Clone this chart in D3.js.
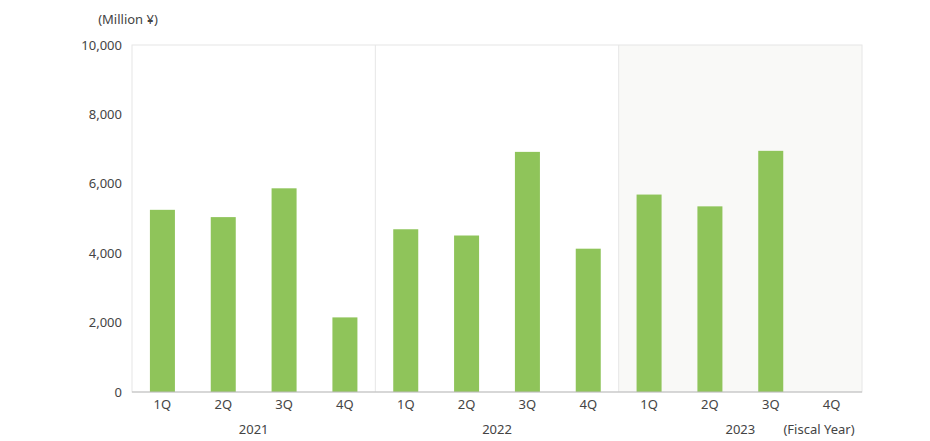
<!DOCTYPE html>
<html><head><meta charset="utf-8">
<script src="https://cdn.jsdelivr.net/npm/d3@7"></script>
<style>body{margin:0;background:#fff;font-family:"Noto Sans",sans-serif;overflow:hidden;}</style>
</head><body><div id="plot"></div>
<script>
const years = ["2021", "2022", "2023"];
const quarters = ["1Q", "2Q", "3Q", "4Q"];
const values2021 = [5250, 5040, 5870, 2150];
const values2022 = [4690, 4510, 6920, 4130];
const values2023 = [5690, 5350, 6950, null];
const yTicks = [0, 2000, 4000, 6000, 8000, 10000];

const w = 930, h = 441;
const margin = {top: 45, right: 68, bottom: 49, left: 132};
const innerWidth = w - margin.left - margin.right;
const innerHeight = h - margin.top - margin.bottom;

const data = [];
[values2021, values2022, values2023].forEach((vals, i) => {
  vals.forEach((v, j) => data.push({year: years[i], q: quarters[j], key: years[i] + quarters[j], value: v}));
});

const svg = d3.select("#plot").append("svg").attr("width", w).attr("height", h).style("display", "block");
const g = svg.append("g").attr("transform", `translate(${margin.left},${margin.top})`);

const xYear = d3.scaleBand().domain(years).range([0, innerWidth]);
const x = d3.scaleBand().domain(data.map(d => d.key)).range([0, innerWidth]);
const y = d3.scaleLinear().domain([0, 10000]).range([innerHeight, 0]);

// 2023 shaded
g.append("rect").attr("x", xYear("2023")).attr("y", 0)
  .attr("width", xYear.bandwidth()).attr("height", innerHeight).attr("fill", "#f9f9f7");

g.append("rect").attr("x", 0).attr("y", 0).attr("width", innerWidth).attr("height", innerHeight)
  .attr("fill", "none").attr("stroke", "#e6e6e6");

g.selectAll(".div").data(years.slice(1)).enter().append("line")
  .attr("x1", d => xYear(d)).attr("x2", d => xYear(d))
  .attr("y1", 0).attr("y2", innerHeight).attr("stroke", "#e6e6e6");

const bw = 25;
g.selectAll(".bar").data(data.filter(d => d.value != null)).enter().append("rect")
  .attr("x", d => x(d.key) + x.bandwidth() / 2 - bw / 2)
  .attr("y", d => y(d.value)).attr("width", bw)
  .attr("height", d => innerHeight - y(d.value))
  .attr("fill", "#8fc45a");

g.append("line").attr("x1", 0).attr("x2", innerWidth).attr("y1", innerHeight).attr("y2", innerHeight)
  .attr("stroke", "#bbb");

const yAxis = d3.axisLeft(y).tickValues(yTicks).tickSize(0).tickPadding(10).tickFormat(d3.format(","));
g.append("g").call(yAxis).call(a => a.select(".domain").remove())
  .selectAll("text").attr("font-size", 13).attr("fill", "#444").attr("font-family", "Noto Sans");

const xAxis = d3.axisBottom(x).tickSize(0).tickPadding(8).tickFormat(k => k.slice(4));
g.append("g").attr("transform", `translate(0,${innerHeight})`).call(xAxis)
  .call(a => a.select(".domain").remove())
  .selectAll("text").attr("font-size", 13).attr("fill", "#444").attr("font-family", "Noto Sans");

g.selectAll(".yr").data(years).enter().append("text")
  .attr("x", d => xYear(d) + xYear.bandwidth() / 2).attr("y", innerHeight + 42)
  .attr("text-anchor", "middle").attr("font-size", 13).attr("fill", "#444").text(d => d);

g.append("text").attr("x", innerWidth - 43).attr("y", innerHeight + 42).attr("text-anchor", "middle")
  .attr("font-size", 13).attr("fill", "#444").text("(Fiscal Year)");

svg.append("text").attr("x", 128).attr("y", 24).attr("text-anchor", "middle")
  .attr("font-size", 13).attr("fill", "#444").text("(Million ¥)");
</script></body></html>
